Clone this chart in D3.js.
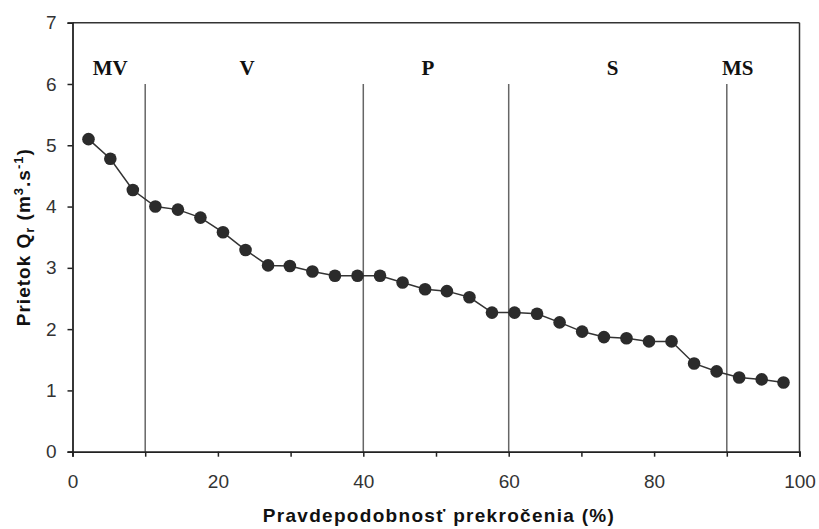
<!DOCTYPE html>
<html><head><meta charset="utf-8">
<script src="https://cdn.jsdelivr.net/npm/d3@7"></script>
<style>body{margin:0;background:#fff}svg{display:block}</style>
</head><body>
<svg id="c" width="819" height="529"></svg>
<script>
const xVals = [2.2,5.2,8.3,11.4,14.5,17.6,20.7,23.8,26.9,29.9,33.0,36.1,39.2,42.3,45.4,48.5,51.5,54.6,57.7,60.8,63.9,67.0,70.1,73.1,76.2,79.3,82.4,85.5,88.6,91.7,94.8,97.8];
const yVals = [5.10,4.78,4.27,4.00,3.95,3.82,3.58,3.29,3.04,3.03,2.94,2.87,2.87,2.87,2.76,2.65,2.62,2.52,2.27,2.27,2.25,2.11,1.96,1.87,1.85,1.80,1.80,1.44,1.31,1.21,1.18,1.13];
const zoneBounds = [10,40,60,90];
const zoneLabels = ["MV","V","P","S","MS"];
const zoneLabelX = [5.2,24.0,48.9,74.3,91.5];
const xTicks = [0,20,40,60,80,100];
const xMinorTicks = [0,10,20,30,40,50,60,70,80,90,100];
const yTicks = [0,1,2,3,4,5,6,7];

const svg = d3.select("#c");
const L=72.5, R=799.5, T=22.7, B=451.7;
const x = d3.scaleLinear().domain([0,100]).range([L,R]);
const y = d3.scaleLinear().domain([0,7]).range([B,T]);
const SANS = "Liberation Sans, Arial, sans-serif";

// frame top/right
svg.append("line").attr("x1",L).attr("x2",R).attr("y1",T).attr("y2",T).attr("stroke","#333").attr("stroke-width",1.5);
svg.append("line").attr("x1",R).attr("x2",R).attr("y1",T).attr("y2",B).attr("stroke","#333").attr("stroke-width",1.5);

// zone lines
svg.selectAll(".zl").data(zoneBounds).enter().append("line")
  .attr("x1",d=>x(d)).attr("x2",d=>x(d)).attr("y1",y(6)).attr("y2",B)
  .attr("stroke","#666").attr("stroke-width",1.5);

// zone labels
svg.selectAll(".zt").data(zoneLabels).enter().append("text")
  .attr("x",(d,i)=>x(zoneLabelX[i])).attr("y",75)
  .attr("text-anchor","middle").attr("font-family","Liberation Serif, Times New Roman, serif")
  .attr("font-weight","bold").attr("font-size",21).attr("fill","#111").text(d=>d);

// axes
const xAxis = d3.axisBottom(x).tickValues(xMinorTicks).tickSize(5).tickFormat(d=>xTicks.includes(d)?d:"");
const gx = svg.append("g").attr("transform",`translate(0,${B})`).call(xAxis);
gx.select(".domain").attr("stroke","#222").attr("stroke-width",1.8);
gx.selectAll(".tick line").attr("stroke","#222").attr("stroke-width",1.5);
gx.selectAll(".tick text").attr("font-family",SANS).attr("font-size",19).attr("fill","#333")
  .attr("dy",null).attr("y",36);

const yAxis = d3.axisLeft(y).tickValues(yTicks).tickSize(5).tickFormat(d3.format("d"));
const gy = svg.append("g").attr("transform",`translate(${L},0)`).call(yAxis);
gy.select(".domain").attr("stroke","#222").attr("stroke-width",1.8);
gy.selectAll(".tick line").attr("stroke","#222").attr("stroke-width",1.5);
gy.selectAll(".tick text").attr("font-family",SANS).attr("font-size",19).attr("fill","#333").attr("x",-16);

// series
const pts = xVals.map((v,i)=>[v,yVals[i]]);
svg.append("path").datum(pts).attr("fill","none").attr("stroke","#333").attr("stroke-width",1.5)
  .attr("d",d3.line().x(d=>x(d[0])).y(d=>y(d[1])));
svg.selectAll(".pt").data(pts).enter().append("circle")
  .attr("cx",d=>x(d[0])).attr("cy",d=>y(d[1])).attr("r",6.3).attr("fill","#2b2b2b");

// axis titles
svg.append("text").attr("x",(L+R)/2 + 3).attr("y",522).attr("text-anchor","middle")
  .attr("font-family",SANS).attr("font-weight","bold").attr("font-size",19).attr("fill","#111")
  .attr("letter-spacing",1.3)
  .text("Pravdepodobnosť prekročenia (%)");
const yt = svg.append("text").attr("transform",`translate(30,${(T+B)/2}) rotate(-90)`).attr("text-anchor","middle")
  .attr("font-family",SANS).attr("font-weight","bold").attr("font-size",19).attr("fill","#111")
  .attr("letter-spacing",1);
yt.append("tspan").text("Prietok Q");
yt.append("tspan").attr("font-size",13).attr("dy",4).text("r");
yt.append("tspan").attr("dy",-4).text(" (m");
yt.append("tspan").attr("font-size",13).attr("dy",-7).text("3");
yt.append("tspan").attr("dy",7).text(".s");
yt.append("tspan").attr("font-size",13).attr("dy",-7).text("-1");
yt.append("tspan").attr("dy",7).text(")");
</script>
</body></html>
